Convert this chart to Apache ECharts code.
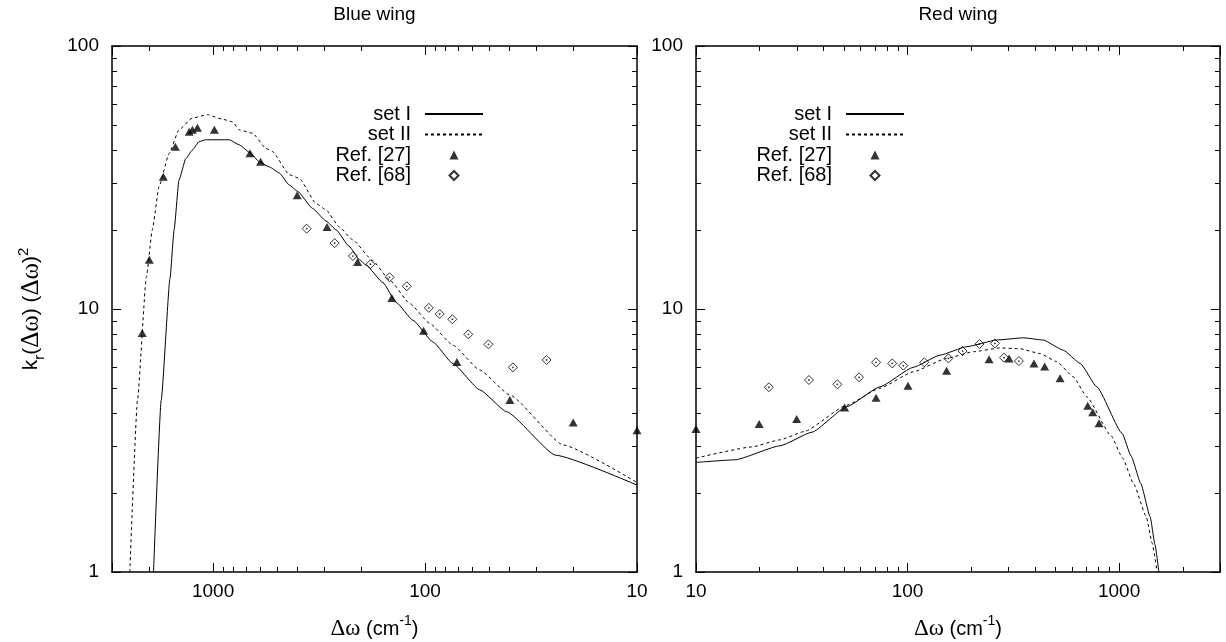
<!DOCTYPE html>
<html><head><meta charset="utf-8">
<script src="https://cdn.jsdelivr.net/npm/echarts@6/dist/echarts.min.js"></script>
<style>html,body{margin:0;padding:0;background:#fff}#c{width:1226px;height:642px}</style>
</head><body><div id="c"></div>
<script>
const FONT = 'Liberation Sans';
const lineNames = ['set I', 'set II'];
const pointNames = ['Ref. [27]', 'Ref. [68]'];
const panelTitles = ['Blue wing', 'Red wing'];
const xTickValues = [10, 100, 1000];
const yTickValues = [1, 10, 100];

// Blue wing (x = detuning, axis reversed)
const blueSetI = [[1911,1],[1758,4.5],[1597,13.1],[1528,20.0],[1449,30.9],[1346,37.3],[1253,40.2],[1164,43.3],[1084,44],[839,44],[753,42.1],[670,39.3],[606,36.3],[543,34.7],[487,32.9],[437,29.6],[399,28],[339,24.1],[293,21.6],[263,20.0],[228,17.3],[204,15.4],[190,14.7],[158,12.6],[137,10.6],[114,9.06],[91.9,7.5],[73.9,6.2],[55.2,4.93],[41.3,4.07],[24.2,2.78],[10,2.14]];
const blueSetII = [[2472,1],[2275,4.5],[2066,13.2],[1936,20],[1800,29.2],[1614,39],[1449,48],[1253,53.2],[1064,54.8],[904,52.7],[810,51.5],[753,48],[651,46.6],[563,40.8],[525,39.7],[437,32.4],[392,31.4],[327,25.2],[293,23.8],[254,20.5],[219,18.3],[177,15.3],[147,12.9],[118,10.5],[95.2,8.82],[73.9,7.29],[55.2,5.86],[39.8,4.71],[22.3,3.04],[10,2.19]];
const blueRef27 = [[2160,8.1],[2000,15.4],[1718,31.8],[1507,41.4],[1297,47.2],[1253,48],[1186,48.9],[986,48],[670,39.1],[597,36.3],[401,27.1],[290,20.5],[208,15.1],[143.5,11.0],[101.6,8.27],[70.8,6.29],[39.8,4.51],[20,3.70],[10,3.46]];
const blueRef68 = [[362,20.2],[267,17.8],[219,15.9],[181,14.8],[147,13.2],[122,12.2],[96,10.1],[85.3,9.57],[74.3,9.14],[62.5,8.01],[50.2,7.34],[38.5,6.0],[26.7,6.4]];

// Red wing
const redSetI = [[10,2.61],[15.3,2.67],[25,3.02],[35.3,3.40],[51.6,4.25],[74.1,5.06],[106.4,6.0],[142.6,6.68],[190.5,7.19],[264,7.62],[353,7.77],[438,7.62],[545,6.97],[655,6.21],[785,5.06],[1033,3.37],[1140,2.76],[1267,2.17],[1403,1.62],[1479,1.27],[1542,1]];
const redSetII = [[10,2.71],[18.4,2.99],[24.9,3.18],[32.5,3.42],[51.6,4.31],[74.1,5.0],[106.4,5.77],[153,6.49],[205,6.88],[273,7.11],[340,7.06],[423,6.77],[507,6.31],[608,5.52],[703,4.64],[916,3.3],[1040,2.71],[1170,2.17],[1346,1.62],[1432,1.29],[1514,1]];
const redRef27 = [[10,3.50],[19.9,3.65],[29.9,3.82],[50.4,4.22],[71,4.60],[100.5,5.11],[153,5.83],[243,6.44],[302,6.49],[396,6.21],[445,6.04],[526,5.45],[711,4.29],[751,4.05],[804,3.68]];
const redRef68 = [[22.1,5.04],[34.2,5.37],[46.6,5.17],[59,5.50],[71,6.27],[84.7,6.21],[95.5,6.09],[120,6.27],[156,6.49],[182,6.92],[219,7.36],[259,7.4],[286,6.53],[336,6.34]];

function tickFmt(list) {
  return function (v) {
    for (const t of list) { if (Math.abs(v - t) / t < 1e-6) return String(t); }
    return '';
  };
}
const black = '#000';
function richSet(main, greek, small, lh) {
  return {
    t: {fontSize: main, fontFamily: FONT, color: black, lineHeight: lh, verticalAlign: 'middle'},
    g: {fontSize: greek, fontFamily: 'Liberation Serif', color: black, lineHeight: lh, verticalAlign: 'middle'},
    s: {fontSize: small, fontFamily: FONT, color: black, lineHeight: lh, verticalAlign: 'bottom'},
    p: {fontSize: small, fontFamily: FONT, color: black, lineHeight: lh, verticalAlign: 'top'}
  };
}
const xRich = richSet(20, 23, 14, 30);
const yRich = richSet(21, 25, 15, 31);

function xAx(grid, pos, inverse, showLabel, name, nameGap) {
  return {
    type: 'log', logBase: 10, gridIndex: grid, position: pos, inverse: inverse,
    min: 10, max: 3000,
    axisLine: {show: true, onZero: false, lineStyle: {color: black, width: 1.5}},
    axisTick: {show: true, inside: true, length: 9, lineStyle: {color: black, width: 1}},
    minorTick: {show: true, splitNumber: 9, length: 5, lineStyle: {color: black, width: 1}},
    splitLine: {show: false}, minorSplitLine: {show: false},
    axisLabel: {show: showLabel, formatter: tickFmt(xTickValues), color: black, fontSize: 19, fontFamily: FONT, margin: 10, showMinLabel: true, showMaxLabel: true, hideOverlap: false},
    name: name, nameLocation: 'middle', nameGap: nameGap,
    nameTextStyle: {fontSize: 19, fontFamily: FONT, color: black, rich: xRich}
  };
}
function yAx(grid, pos, showLabel, name) {
  return {
    type: 'log', logBase: 10, gridIndex: grid, position: pos, min: 1, max: 100,
    axisLine: {show: true, onZero: false, lineStyle: {color: black, width: 1.5}},
    axisTick: {show: true, inside: true, length: 9, lineStyle: {color: black, width: 1}},
    minorTick: {show: true, splitNumber: 9, length: 5, lineStyle: {color: black, width: 1}},
    splitLine: {show: false}, minorSplitLine: {show: false},
    axisLabel: {show: showLabel, formatter: tickFmt(yTickValues), color: black, fontSize: 19, fontFamily: FONT, margin: 13, showMinLabel: true, showMaxLabel: true, hideOverlap: false},
    name: name, nameLocation: 'middle', nameGap: 65, nameRotate: 90,
    nameTextStyle: {fontSize: 19, fontFamily: FONT, color: black, rich: yRich}
  };
}
const xName = '{g|Δω}{t| (cm}{p|-1}{t|)}';
const yName = '{t|k}{s|r}{t|(}{g|Δω}{t|) (}{g|Δω}{t|)}{p|2}';

function panelSeries(xi, yi, s1, s2, r27, r68) {
  return [
    {name: lineNames[0], type: 'line', xAxisIndex: xi, yAxisIndex: yi, data: s1, symbol: 'none', showSymbol: false,
     smooth: 0.15, smoothMonotone: 'x', lineStyle: {color: black, width: 1}, itemStyle: {color: black}, z: 3},
    {name: lineNames[1], type: 'line', xAxisIndex: xi, yAxisIndex: yi, data: s2, symbol: 'none', showSymbol: false,
     smooth: 0.15, smoothMonotone: 'x', lineStyle: {color: black, width: 1, type: [3, 3]}, itemStyle: {color: black}, z: 3},
    {name: pointNames[0], type: 'scatter', xAxisIndex: xi, yAxisIndex: yi, data: r27, symbol: 'triangle', symbolSize: [9, 8],
     itemStyle: {color: black}, clip: false, z: 4},
    {name: pointNames[1], type: 'scatter', xAxisIndex: xi, yAxisIndex: yi, data: r68, symbol: 'diamond', symbolSize: 9,
     itemStyle: {color: 'rgba(255,255,255,0)', borderColor: black, borderWidth: 1}, clip: false, z: 4},
    {name: 'ref68center', type: 'scatter', xAxisIndex: xi, yAxisIndex: yi, data: r68, symbol: 'circle', symbolSize: 1.8,
     itemStyle: {color: black}, silent: true, clip: false, z: 5}
  ];
}

const legTop = 104, rowPitch = 20.5;
function legends(right) {
  const common = {orient: 'vertical', align: 'right', padding: 0, itemGap: 0.5, selectedMode: false, symbolKeepAspect: true};
  return [
    Object.assign({}, common, {
      right: right, top: legTop, itemWidth: 58, itemHeight: 9,
      textStyle: {fontSize: 20, fontFamily: FONT, color: black, lineHeight: 20, padding: [0, 9, 0, 0]},
      data: lineNames.map(n => ({name: n, itemStyle: {opacity: 0, color: 'rgba(0,0,0,0)', borderWidth: 0}}))
    }),
    Object.assign({}, common, {
      right: right + 24.5, top: legTop + 2 * rowPitch, itemWidth: 9, itemHeight: 9,
      textStyle: {fontSize: 20, fontFamily: FONT, color: black, lineHeight: 20, padding: [0, 33.5, 0, 0]},
      data: pointNames
    })
  ];
}

const chart = echarts.init(document.getElementById('c'), null, {renderer: 'canvas'});
chart.setOption({
  animation: false,
  backgroundColor: '#fff',
  textStyle: {fontFamily: FONT},
  grid: [
    {left: 112, right: 589, top: 46, bottom: 70, containLabel: false, outerBoundsMode: 'none'},
    {left: 696, right: 6, top: 46, bottom: 70, containLabel: false, outerBoundsMode: 'none'}
  ],
  xAxis: [
    xAx(0, 'bottom', true, true, xName, 42),
    xAx(0, 'top', true, false, panelTitles[0], 22),
    xAx(1, 'bottom', false, true, xName, 42),
    xAx(1, 'top', false, false, panelTitles[1], 22)
  ],
  yAxis: [
    yAx(0, 'left', true, yName),
    yAx(0, 'right', false, ''),
    yAx(1, 'left', true, ''),
    yAx(1, 'right', false, '')
  ],
  legend: [].concat(legends(742), legends(321)),
  series: [].concat(
    panelSeries(0, 0, blueSetI, blueSetII, blueRef27, blueRef68),
    panelSeries(2, 2, redSetI, redSetII, redRef27, redRef68)
  )
});
</script></body></html>
